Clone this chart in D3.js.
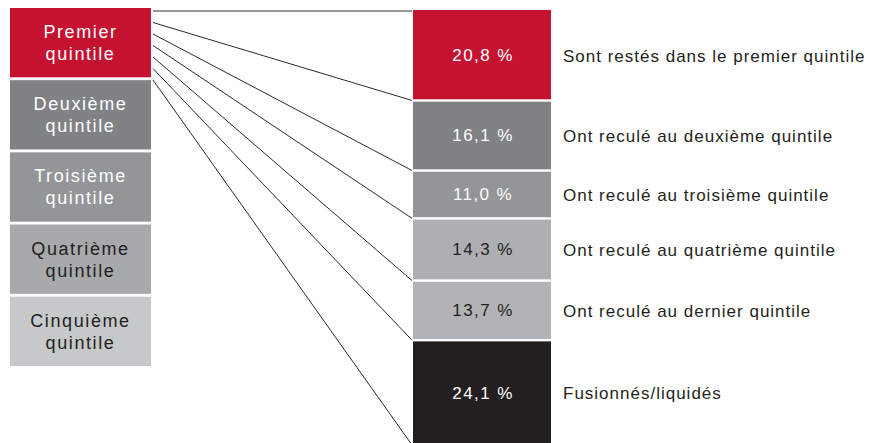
<!DOCTYPE html>
<html lang="fr">
<head>
<meta charset="utf-8">
<script src="https://cdn.jsdelivr.net/npm/d3@7"></script>
<style>
  html, body { margin: 0; padding: 0; background: #fff; }
  svg { display: block; font-family: "Liberation Sans", Arial, sans-serif; }
</style>
</head>
<body>
<svg id="chart" width="886" height="443"></svg>
<script>
// Starting quintile (left column)
const sourceLines = [
  ["Premier", "quintile"],
  ["Deuxième", "quintile"],
  ["Troisième", "quintile"],
  ["Quatrième", "quintile"],
  ["Cinquième", "quintile"]
];
const sourceColors = ["#c41230", "#808285", "#939598", "#a7a9ac", "#c7c8ca"];
const sourceTextColors = ["#ffffff", "#ffffff", "#ffffff", "#231f20", "#231f20"];

// Where the first-quintile firms ended up (right column, % of firms)
const outcomes = [
  "Sont restés dans le premier quintile",
  "Ont reculé au deuxième quintile",
  "Ont reculé au troisième quintile",
  "Ont reculé au quatrième quintile",
  "Ont reculé au dernier quintile",
  "Fusionnés/liquidés"
];
const shares = [20.8, 16.1, 11.0, 14.3, 13.7, 24.1];
const shareColors = ["#c41230", "#808285", "#939598", "#adafb2", "#b1b3b6", "#231f20"];
const shareTextColors = ["#ffffff", "#ffffff", "#ffffff", "#231f20", "#231f20", "#ffffff"];

const svg = d3.select("#chart");

// French number formatting: decimal comma
const fr = d3.formatLocale({ decimal: ",", thousands: " ", grouping: [3], currency: ["", " €"] });
const pct = v => fr.format(".1f")(v) + " %";

// ---- Left column: five quintile boxes
const leftX = 10, leftW = 141;
const yLeft = d3.scaleBand()
  .domain(d3.range(sourceLines.length))
  .range([8, 366])
  .paddingInner(0.04);

const left = svg.append("g").selectAll("g")
  .data(sourceLines)
  .join("g")
  .attr("transform", (d, i) => `translate(${leftX},${yLeft(i)})`);

left.append("rect")
  .attr("width", leftW)
  .attr("height", yLeft.bandwidth())
  .attr("fill", (d, i) => sourceColors[i]);

left.append("text")
  .attr("x", leftW / 2)
  .attr("text-anchor", "middle")
  .attr("font-size", 18)
  .attr("letter-spacing", 1.6)
  .attr("fill", (d, i) => sourceTextColors[i])
  .selectAll("tspan")
  .data(d => d)
  .join("tspan")
  .attr("x", leftW / 2)
  .attr("y", (d, j) => 30 + j * 22)
  .text(d => d);

// ---- Right column: stacked shares
const colX = 413, colW = 138;
const y = d3.scaleLinear().domain([0, 100]).range([10, 445]);
const ends = Array.from(d3.cumsum(shares));
const starts = [0, ...ends.slice(0, -1)];
const gap = 1.2;

const segs = svg.append("g").selectAll("g")
  .data(shares)
  .join("g");

segs.append("rect")
  .attr("x", colX)
  .attr("width", colW)
  .attr("y", (d, i) => y(starts[i]) + (i > 0 ? gap : 0))
  .attr("height", (d, i) => y(ends[i]) - y(starts[i]) - (i > 0 ? gap : 0) - gap)
  .attr("fill", (d, i) => shareColors[i]);

const mid = i => (y(starts[i]) + y(ends[i])) / 2;

segs.append("text")
  .attr("x", colX + colW / 2 + 1)
  .attr("y", (d, i) => mid(i))
  .attr("dy", "0.35em")
  .attr("text-anchor", "middle")
  .attr("font-size", 17)
  .attr("letter-spacing", 1.4)
  .attr("fill", (d, i) => shareTextColors[i])
  .text(d => pct(d));

segs.append("text")
  .attr("x", 563)
  .attr("y", (d, i) => mid(i))
  .attr("dy", "0.4em")
  .attr("font-size", 17)
  .attr("letter-spacing", 1.0)
  .attr("fill", "#231f20")
  .text((d, i) => outcomes[i]);

// ---- Connector lines from the first quintile box to each segment boundary
const bounds = [0, ...ends];
const yFrom = d3.scaleLinear().domain([0, bounds.length - 1]).range([11, 80]);
svg.append("g")
  .attr("stroke", "#2b2b2b")
  .attr("stroke-width", 1)
  .selectAll("line")
  .data(bounds)
  .join("line")
  .attr("x1", leftX + leftW + 2)
  .attr("y1", (d, i) => yFrom(i))
  .attr("x2", colX - 1)
  .attr("y2", (d, i) => i === 0 ? yFrom(0) : y(d));
</script>
</body>
</html>
